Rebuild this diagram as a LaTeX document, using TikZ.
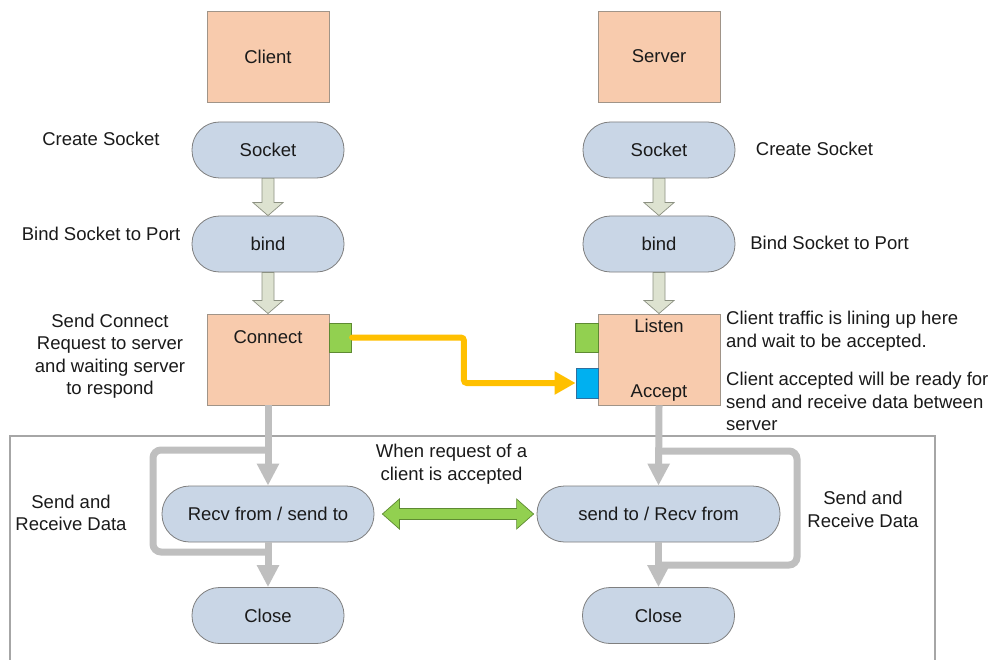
\documentclass[tikz,border=0pt]{standalone}
\usepackage{fontspec}
\setmainfont{Liberation Sans}
\usetikzlibrary{calc,arrows.meta}
\definecolor{peach}{HTML}{F8CBAD}
\definecolor{peachedge}{HTML}{A09488}
\definecolor{pillfill}{HTML}{C9D6E6}
\definecolor{pilledge}{HTML}{7F7F7F}
\definecolor{blockfill}{HTML}{DDE2D0}
\definecolor{blockedge}{HTML}{8C9182}
\definecolor{flowgray}{HTML}{BFBFBF}
\definecolor{frameline}{HTML}{A6A6A6}
\definecolor{portgreen}{HTML}{92D050}
\definecolor{portgreenedge}{HTML}{5E8A32}
\definecolor{portblue}{HTML}{00B0F0}
\definecolor{portblueedge}{HTML}{2F6F9F}
\definecolor{linkyellow}{HTML}{FFC000}
\definecolor{txt}{HTML}{1A1A1A}
\newcommand{\blockarr}[2]{%
  \path[blockarrow] ($(#1.south)+(-6,0)$) -- ($(#1.south)+(6,0)$)
    -- ($(#2.north)+(6,-13)$) -- ($(#2.north)+(15,-13)$) -- (#2.north)
    -- ($(#2.north)+(-15,-13)$) -- ($(#2.north)+(-6,-13)$) -- cycle;}
\begin{document}
\begin{tikzpicture}[x=1pt,y=-1pt,
  every node/.style={font=\fontsize{18.5}{22.5}\selectfont, text=txt, inner sep=0pt},
  procbox/.style={draw=peachedge, fill=peach, line width=0.9pt, minimum width=122pt, minimum height=91pt},
  pill/.style={draw=pilledge, fill=pillfill, line width=0.8pt, rounded corners=27.5pt, minimum width=152pt, minimum height=56pt},
  widepill/.style={pill, minimum width=#1},
  blockarrow/.style={draw=blockedge, fill=blockfill, line width=0.7pt},
  port/.style={draw=portgreenedge, fill=portgreen, line width=0.8pt, minimum width=22.5pt, minimum height=29pt},
  bport/.style={draw=portblueedge, fill=portblue, line width=0.8pt, minimum width=22pt, minimum height=30pt},
  grayline/.style={draw=flowgray, line width=7pt, rounded corners=8pt},
  grayflow/.style={draw=flowgray, line width=7pt, -{Triangle[width=21pt,length=22pt]}},
  note/.style={align=center},
  leftnote/.style={align=left, anchor=west}]
\useasboundingbox (0,0) rectangle (992,660);
\fill[white] (0,0) rectangle (992,660);

% frame around the data exchange phase
\draw[frameline, line width=1.1pt] (10,662) -- (10,436) -- (935,436) -- (935,662);

% column headers
\node[procbox] (client) at (268,56.5) {Client};
\node[procbox] (server) at (659,56.5) {Server};

% client column
\node[pill] (csock) at (268,150) {Socket};
\node[pill] (cbind) at (268,244) {bind};
\node[procbox] (cconn) at (268,359.5) {};
\node (cconnlbl) at (268,337) {Connect};
\node[port] (cport) at (340.5,337.5) {};
\node[widepill=212pt] (crecv) at (268,514) {Recv from / send to};
\node[pill] (cclose) at (268,615.5) {Close};

% server column
\node[pill] (ssock) at (659,150) {Socket};
\node[pill] (sbind) at (659,244) {bind};
\node[procbox] (slisten) at (659,359.5) {};
\node (slistenlbl) at (659,326) {Listen};
\node (sacceptlbl) at (659,393) {Accept};
\node[port] (slport) at (587,337.5) {};
\node[bport] (saport) at (587,383) {};
\node[widepill=243pt] (ssend) at (658.5,514) {send to / Recv from};
\node[pill] (sclose) at (658.5,615.5) {Close};

% setup arrows
\blockarr{csock}{cbind}
\blockarr{cbind}{cconn}
\blockarr{ssock}{sbind}
\blockarr{sbind}{slisten}

% connection request
\draw[linkyellow, line width=6pt, line cap=round, rounded corners=3pt,
      -{Triangle[width=22pt,length=21pt]}]
  (cport.east) -| ($(cport.east)!.5!(saport.west)$) |- (saport.west);

% client data loop
\draw[grayflow] (cconn.south) -- (crecv.north);
\coordinate (cl1) at (268,450);
\coordinate (cl2) at (268,552);
\draw[grayline] (cl1) -- (153,450) -- (153,552) -- (cl2);
\draw[grayflow] (crecv.south) -- (cclose.north);

% server data loop
\draw[grayflow] (slisten.south) -- (ssend.north);
\coordinate (sl1) at (659,451);
\coordinate (sl2) at (659,565);
\draw[grayline] (sl1) -- (797,451) -- (797,565) -- (sl2);
\draw[grayflow] (ssend.south) -- (sclose.north);

% data exchange between both ends
\coordinate (dl) at ($(crecv.east)+(8,0)$);
\coordinate (dr) at ($(ssend.west)+(-3,0)$);
\path[draw=portgreenedge, fill=portgreen, line width=0.7pt]
  (dl) -- ($(dl)+(17,-15)$) -- ($(dl)+(17,-5.5)$) -- ($(dr)+(-17,-5.5)$)
  -- ($(dr)+(-17,-15)$) -- (dr) -- ($(dr)+(-17,15)$) -- ($(dr)+(-17,5.5)$)
  -- ($(dl)+(17,5.5)$) -- ($(dl)+(17,15)$) -- cycle;

% annotations
\node[note] (n1) at (101,139) {Create Socket};
\node[note] (n2) at (101,234) {Bind Socket to Port};
\node[note] (n3) at (110,356) {Send Connect\\Request to server\\and waiting server\\to respond};
\node[note] (n4) at (814.5,149) {Create Socket};
\node[note] (n5) at (829.5,243) {Bind Socket to Port};
\node[leftnote] (n6) at (726,331) {Client traffic is lining up here\\and wait to be accepted.};
\node[leftnote] (n7) at (726,401.5) {Client accepted will be ready for\\send and receive data between\\server};
\node[note] (n8) at (451.5,464) {When request of a\\client is accepted};
\node[note] (n9) at (71,513) {Send and\\Receive Data};
\node[note] (n10) at (863,509.5) {Send and\\Receive Data};
\end{tikzpicture}
\end{document}
